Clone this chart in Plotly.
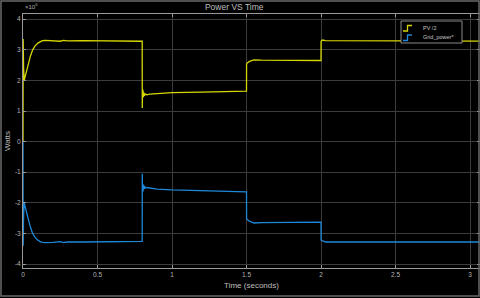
import plotly.graph_objects as go

# Data (values in units of 1e6 W)
t_pv = [0, 0.001, 0.004, 0.008, 0.02, 0.035, 0.05, 0.065, 0.08, 0.1, 0.115, 0.13, 0.15,
        0.2, 0.25, 0.27, 0.3, 0.4, 0.5, 0.6, 0.7, 0.8, 0.8005, 0.802, 0.804, 0.806, 0.808,
        0.811, 0.815, 0.82, 0.83, 0.85, 0.9, 1.0, 1.2, 1.4, 1.5, 1.5005, 1.505, 1.52, 1.55,
        1.6, 1.8, 2.0, 2.0005, 2.01, 2.03, 2.1, 2.3, 2.5, 2.8, 3.0, 3.1]
pv = [0, 3.35, 2.4, 2.0, 2.25, 2.55, 2.8, 3.0, 3.12, 3.22, 3.27, 3.3, 3.31,
      3.3, 3.28, 3.31, 3.29, 3.3, 3.3, 3.29, 3.29, 3.28, 1.1, 1.7, 1.35, 1.65, 1.45,
      1.6, 1.5, 1.56, 1.53, 1.55, 1.57, 1.6, 1.62, 1.64, 1.65, 2.54, 2.57, 2.62, 2.67,
      2.66, 2.65, 2.65, 3.28, 3.32, 3.3, 3.3, 3.29, 3.28, 3.28, 3.28, 3.28]

t_grid = [0, 0.001, 0.004, 0.008, 0.02, 0.035, 0.05, 0.065, 0.08, 0.1, 0.115, 0.13, 0.15,
          0.2, 0.25, 0.27, 0.3, 0.4, 0.5, 0.6, 0.7, 0.8, 0.8005, 0.802, 0.804, 0.806, 0.808,
          0.811, 0.815, 0.82, 0.83, 0.85, 0.9, 1.0, 1.2, 1.4, 1.5, 1.5005, 1.505, 1.52, 1.55,
          1.6, 1.8, 2.0, 2.0005, 2.01, 2.03, 2.1, 2.3, 2.5, 2.8, 3.0, 3.1]
grid = [0, -3.4, -2.4, -2.0, -2.25, -2.55, -2.8, -3.0, -3.12, -3.22, -3.27, -3.29, -3.3,
        -3.29, -3.27, -3.3, -3.28, -3.28, -3.28, -3.27, -3.27, -3.26, -1.05, -1.65, -1.3, -1.6, -1.4,
        -1.55, -1.45, -1.52, -1.5, -1.52, -1.55, -1.58, -1.6, -1.62, -1.64, -2.52, -2.55, -2.6, -2.66,
        -2.65, -2.64, -2.63, -3.22, -3.24, -3.28, -3.28, -3.28, -3.28, -3.28, -3.28, -3.28]

series_names = ["PV /2", "Grid_power*"]
series_colors = ["#d6d600", "#1e88d8"]

x_ticks = [0, 0.5, 1, 1.5, 2, 2.5, 3]
x_tick_labels = ["0", "0.5", "1", "1.5", "2", "2.5", "3"]
y_ticks = [-4, -3, -2, -1, 0, 1, 2, 3, 4]
y_tick_labels = ["-4", "-3", "-2", "-1", "0", "1", "2", "3", "4"]

FONT = "Liberation Sans"

# layout geometry (pixels)
W, H = 480, 298
ML, MR, MT, MB = 23, 0, 14, 30
PW, PH = W - ML - MR, H - MT - MB


def px(xp):
    return (xp - ML) / PW


def py(yp):
    return (H - MB - yp) / PH


fig = go.Figure()
for xs, ys, nm, col in [(t_pv, pv, series_names[0], series_colors[0]),
                        (t_grid, grid, series_names[1], series_colors[1])]:
    fig.add_trace(go.Scatter(x=xs, y=ys, mode="lines", name=nm,
                             line=dict(color=col, width=1.3), showlegend=False))

axis_common = dict(showgrid=True, gridcolor="#3c3c3c", gridwidth=1, automargin=False,
                   zeroline=False, showline=True, linecolor="#9a9a9a", linewidth=1,
                   mirror="ticks", ticks="inside", ticklen=3, tickcolor="#9a9a9a",
                   tickfont=dict(family=FONT, size=6.5, color="#b4b4b4"))

# manual legend (box, step icons, labels)
shapes = [dict(type="rect", xref="paper", yref="paper",
               x0=px(401), x1=px(462), y0=py(43), y1=py(21),
               line=dict(color="#8a8a8a", width=1), fillcolor="#000000", layer="above")]
annotations = []
for i, (nm, col) in enumerate(zip(series_names, series_colors)):
    yc = 28 + i * 9.5
    path = "M {a},{b} L {c},{b} L {c},{d} L {e},{d}".format(
        a=px(403), b=py(yc + 3), c=px(407.5), d=py(yc - 2.5), e=px(412))
    shapes.append(dict(type="path", xref="paper", yref="paper", path=path,
                       line=dict(color=col, width=1.3), layer="above"))
    annotations.append(dict(text=nm, xref="paper", yref="paper", x=px(421), y=py(yc),
                            xanchor="left", yanchor="middle", showarrow=False,
                            font=dict(family=FONT, size=5.5, color="#c8c8c8")))

annotations.append(dict(text="×10<sup>6</sup>", xref="paper", yref="paper", x=px(23), y=py(12),
                        xanchor="left", yanchor="bottom", showarrow=False,
                        font=dict(family=FONT, size=6, color="#b4b4b4")))

# outer frame
shapes.append(dict(type="rect", xref="paper", yref="paper",
                   x0=px(1), x1=px(479), y0=py(296), y1=py(1),
                   line=dict(color="#6a6a6a", width=1.5), fillcolor="rgba(0,0,0,0)",
                   layer="above"))

fig.update_layout(
    width=W, height=H,
    paper_bgcolor="#000000", plot_bgcolor="#000000",
    margin=dict(l=ML, r=MR, t=MT, b=MB, autoexpand=False),
    title=dict(text="Power VS Time", x=px(246), xanchor="center", y=1 - 7 / H, yanchor="middle",
               font=dict(family=FONT, size=8.5, color="#bdbdbd")),
    xaxis=dict(range=[0, 3.067], tickvals=x_ticks, ticktext=x_tick_labels,
               title=dict(text="Time (seconds)", standoff=5,
                          font=dict(family=FONT, size=8, color="#bdbdbd")),
               **axis_common),
    yaxis=dict(range=[-4.13, 4.17], tickvals=y_ticks, ticktext=y_tick_labels,
               title=dict(text="Watts", standoff=3,
                          font=dict(family=FONT, size=8, color="#bdbdbd")),
               **axis_common),
    showlegend=False,
    annotations=annotations,
    shapes=shapes,
)

fig.write_html("out.html", config={"displayModeBar": False},
               post_script="document.body.style.margin='0';document.body.style.overflow='hidden';")
